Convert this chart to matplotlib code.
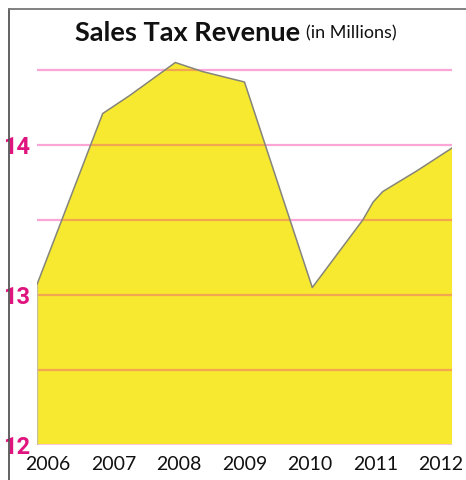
import matplotlib
matplotlib.use("Agg")
import matplotlib.pyplot as plt
from matplotlib.lines import Line2D
from matplotlib.patches import Polygon

# Data (fractional years, revenue in millions)
years = [2006.0, 2006.95, 2007.34, 2008.0, 2008.39, 2009.0, 2009.98, 2010.71, 2010.86, 2011.0, 2011.5, 2012.0]
revenue = [13.07, 14.21, 14.33, 14.55, 14.49, 14.42, 13.05, 13.50, 13.62, 13.69, 13.83, 13.98]
xlabels = ['2006', '2007', '2008', '2009', '2010', '2011', '2012']
yticks = [12, 13, 14]
gridvals = [12.5, 13.0, 13.5, 14.0, 14.5]

fig = plt.figure(figsize=(4.66, 4.8), dpi=100)
ax = fig.add_axes([37/466, 35/480, 415/466, 390/480])
ax.set_xlim(2006, 2012)
ax.set_ylim(12, 14.6)

# gridlines behind (pink)
for g in gridvals:
    ax.axhline(g, color='#fba6d6', lw=1.6, zorder=1)

ax.fill_between(years, 12, revenue, facecolor='#f7e930', edgecolor='none', zorder=2)
ax.plot(years, revenue, color='#85857a', lw=1.1, zorder=4)
ax.plot([years[0], years[0]], [12, revenue[0]], color='#c8bf9a', lw=1.0, zorder=4)

# gridlines over the fill appear orange (multiplied)
poly_pts = [(years[0], 12)] + list(zip(years, revenue)) + [(years[-1], 12)]
clip = Polygon(poly_pts, closed=True, transform=ax.transData, facecolor='none', edgecolor='none')
ax.add_patch(clip)
for g in gridvals:
    ln = ax.axhline(g, color='#f2a650', lw=1.6, zorder=3)
    ln.set_clip_path(clip)
ax.axhline(12, color='#fbc4e0', lw=1.4, zorder=3)

for s in ax.spines.values():
    s.set_visible(False)
# labels are spread slightly inside the data range, as in the original
n = len(xlabels)
lab_pos = [2006.16 + i * (5.68 / (n - 1)) for i in range(n)]
ax.set_xticks(lab_pos)
ax.set_xticklabels(xlabels, fontsize=14, family='Lato', color='#111111')
ax.set_yticks(yticks)
ax.set_yticklabels([str(y) for y in yticks], fontsize=17, family='Roboto', fontweight='bold', color='#e0147f')
ax.tick_params(axis='x', length=0, pad=8)
ax.tick_params(axis='y', length=0, pad=5)

# frame lines (left and top)
fig.add_artist(Line2D([9/466, 9/466], [0, 1 - 9/480], color='#555555', lw=1.3, transform=fig.transFigure))
fig.add_artist(Line2D([9/466, 1], [1 - 9/480, 1 - 9/480], color='#777777', lw=1.3, transform=fig.transFigure))

# title
fig.text(300/466, 1 - 33/480, 'Sales Tax Revenue', ha='right', va='center', fontsize=19.5, family='Lato', fontweight='bold', color='#111111')
fig.text(306/466, 1 - 33/480, '(in Millions)', ha='left', va='center', fontsize=13, family='Lato', color='#111111')

fig.savefig('out.png', dpi=100)
